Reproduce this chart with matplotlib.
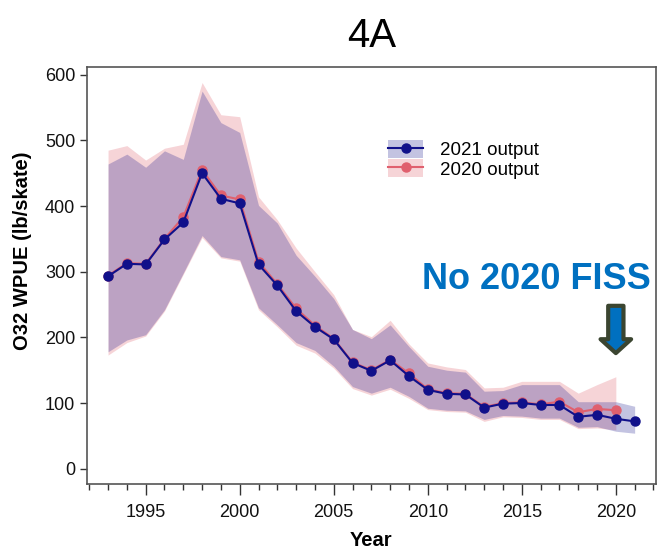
import matplotlib
matplotlib.use("Agg")
import matplotlib.pyplot as plt
import matplotlib.patches as mpatches
from matplotlib.lines import Line2D
from matplotlib.ticker import MultipleLocator

plt.rcParams['font.family'] = ['Liberation Sans', 'DejaVu Sans']

# 2021 output (1993-2021)
years21 = list(range(1993, 2022))
wpue21 = [293, 312, 311, 349, 375, 450, 411, 404, 311, 279, 240, 216, 197,
          161, 149, 165, 141, 120, 114, 113, 93, 99, 100, 97, 97, 79, 82, 76, 72]
upper21 = [464, 479, 459, 484, 471, 575, 527, 512, 401, 374, 325, 293, 259,
           212, 198, 219, 186, 156, 150, 147, 118, 119, 128, 128, 128, 102, 102, 102, 95]
lower21 = [178, 196, 204, 242, 298, 355, 323, 318, 245, 219, 192, 180, 156,
           125, 115, 124, 110, 92, 89, 88, 75, 81, 80, 77, 77, 63, 64, 57, 54]

# 2020 output (1993-2020)
years20 = list(range(1993, 2021))
wpue20 = [294, 313, 312, 350, 383, 455, 416, 410, 315, 281, 244, 218, 198,
          162, 150, 166, 145, 121, 115, 114, 94, 100, 101, 98, 102, 86, 91, 89]
upper20 = [485, 492, 470, 488, 494, 588, 539, 536, 414, 379, 336, 300, 265,
           212, 201, 226, 190, 161, 155, 151, 123, 124, 133, 133, 133, 115, 128, 140]
lower20 = [173, 192, 202, 240, 296, 352, 321, 316, 242, 216, 188, 176, 153,
           122, 112, 121, 107, 90, 87, 86, 72, 79, 78, 75, 75, 61, 62, 59]

navy = '#10108a'
red = '#e0606e'

fig = plt.figure(figsize=(6.59, 5.52), dpi=100)
ax = fig.add_axes([0.132, 0.123, 0.863, 0.756])

ax.fill_between(years20, lower20, upper20, color=red, alpha=0.27, lw=0)
ax.fill_between(years21, lower21, upper21, color=navy, alpha=0.25, lw=0)
ax.plot(years20, wpue20, color=red, lw=1.5, marker='o', ms=6.5)
ax.plot(years21, wpue21, color=navy, lw=1.5, marker='o', ms=6.5)

ax.set_xlim(1991.88, 2022.12)
ax.set_ylim(-23.5, 612)
ax.xaxis.set_major_locator(MultipleLocator(5))
ax.xaxis.set_minor_locator(MultipleLocator(1))
ax.yaxis.set_major_locator(MultipleLocator(100))
ax.tick_params(axis='x', which='major', length=8, width=1, direction='out',
               labelsize=13, pad=6, colors='#333333', labelcolor='#111111')
ax.tick_params(axis='x', which='minor', length=4, width=1, direction='out', colors='#333333')
ax.tick_params(axis='y', length=5, width=1, direction='out', labelsize=13,
               colors='#333333', labelcolor='#111111')
for s in ax.spines.values():
    s.set_color('#555555')
    s.set_linewidth(1.2)

ax.set_xlabel('Year', fontsize=14.5, fontweight='bold')
ax.set_ylabel('O32 WPUE (lb/skate)', fontsize=14.5, fontweight='bold')
ax.xaxis.set_label_coords(0.5, -0.113)
ax.yaxis.set_label_coords(-0.097, 0.56)
ax.set_title('4A', fontsize=29, pad=14)

h21 = (mpatches.Patch(facecolor=navy, alpha=0.25, lw=0),
       Line2D([], [], color=navy, lw=1.5, marker='o', ms=6.5))
h20 = (mpatches.Patch(facecolor=red, alpha=0.27, lw=0),
       Line2D([], [], color=red, lw=1.5, marker='o', ms=6.5))
ax.legend([h21, h20], ['2021 output', '2020 output'], loc='upper left',
          bbox_to_anchor=(0.50, 0.865), frameon=False, fontsize=13.5,
          handlelength=1.85, handleheight=1.1, labelspacing=0.0, handletextpad=0.9)

ax.text(2015.75, 288, 'No 2020 FISS', color='#0070c0', fontsize=26,
        fontweight='bold', ha='center', va='center')
ax.annotate('', xy=(2020, 176), xytext=(2020, 248),
            arrowprops=dict(arrowstyle='simple,head_length=10,head_width=22,tail_width=11',
                            mutation_scale=1, fc='#0070c0', ec='#3b4530', lw=3,
                            shrinkA=0, shrinkB=0))

fig.savefig('out.png', dpi=100)
